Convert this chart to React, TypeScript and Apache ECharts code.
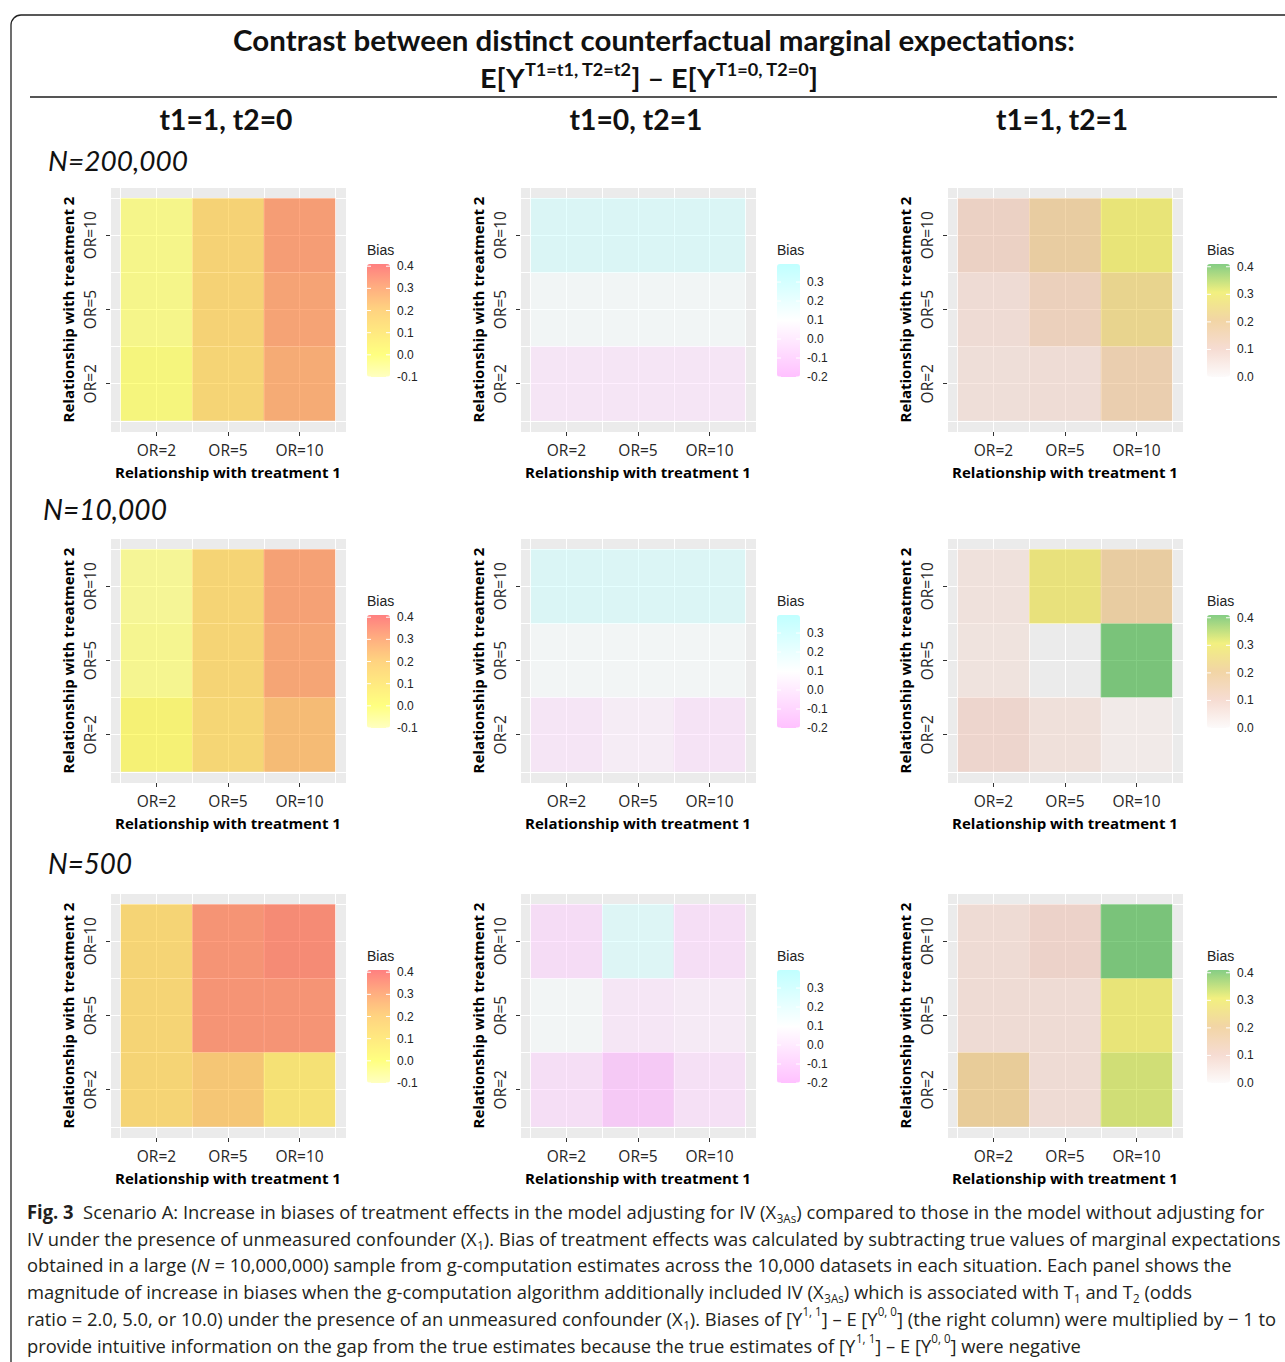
import React, { useEffect, useRef } from 'react';
import * as echarts from 'echarts';

// ---------------- data ----------------
const OR_LABELS = ['OR=2', 'OR=5', 'OR=10'];
const COLUMN_TITLES = ['t1=1, t2=0', 't1=0, t2=1', 't1=1, t2=1'];
const ROW_TITLES = ['N=200,000', 'N=10,000', 'N=500'];
const X_NAME = 'Relationship with treatment 1';
const Y_NAME = 'Relationship with treatment 2';
const LEGEND_TITLE = 'Bias';

// Each matrix: rows = treatment 2 (OR=10 top, OR=5, OR=2 bottom), cols = treatment 1 (OR=2, OR=5, OR=10)
const BIAS_T10_N200000 = [
  [-0.03, 0.16, 0.32],
  [-0.03, 0.16, 0.305],
  [-0.01, 0.15, 0.285],
];
const BIAS_T10_N10000 = [
  [-0.05, 0.15, 0.31],
  [-0.04, 0.15, 0.3],
  [0.02, 0.14, 0.24],
];
const BIAS_T10_N500 = [
  [0.15, 0.34, 0.36],
  [0.15, 0.34, 0.34],
  [0.15, 0.21, 0.09],
];
const BIAS_T01_N200000 = [
  [0.225, 0.225, 0.225],
  [0.114, 0.114, 0.114],
  [0.025, 0.025, 0.025],
];
const BIAS_T01_N10000 = [
  [0.225, 0.22, 0.22],
  [0.11, 0.11, 0.11],
  [0.025, 0.057, 0.016],
];
const BIAS_T01_N500 = [
  [-0.02, 0.21, -0.01],
  [0.11, 0.03, 0.045],
  [-0.01, -0.11, 0.0],
];
const BIAS_T11_N200000 = [
  [0.11, 0.19, 0.3],
  [0.07, 0.13, 0.24],
  [0.06, 0.068, 0.16],
];
const BIAS_T11_N10000 = [
  [0.05, 0.29, 0.19],
  [0.045, null, 0.41],
  [0.09, 0.055, 0.02],
];
const BIAS_T11_N500 = [
  [0.07, 0.1, 0.41],
  [0.07, 0.07, 0.3],
  [0.21, 0.07, 0.33],
];

const PANELS = [
  [BIAS_T10_N200000, BIAS_T01_N200000, BIAS_T11_N200000],
  [BIAS_T10_N10000, BIAS_T01_N10000, BIAS_T11_N10000],
  [BIAS_T10_N500, BIAS_T01_N500, BIAS_T11_N500],
];

const SCALE_MIN = [-0.1, -0.2, 0];
const SCALE_MAX = [0.41, 0.395, 0.41];
const LEGEND_TICKS = [
  [0.4, 0.3, 0.2, 0.1, 0.0, -0.1],
  [0.3, 0.2, 0.1, 0.0, -0.1, -0.2],
  [0.4, 0.3, 0.2, 0.1, 0.0],
];
const SCALE_COLORS = [
  ['rgba(255,255,130,0.5)', 'rgba(255,255,0,0.5)', 'rgba(255,210,0,0.5)', 'rgba(255,165,0,0.5)', 'rgba(255,90,0,0.5)', 'rgba(255,0,0,0.5)'],
  ['rgba(255,129,255,0.5)', 'rgba(255,255,255,0.5)', 'rgba(129,255,255,0.5)'],
  ['rgba(250,245,245,0.5)', 'rgba(237,185,165,0.5)', 'rgba(229,171,75,0.5)', 'rgba(229,225,0,0.5)', 'rgba(10,155,10,0.5)'],
];

type Seg = [string, string];
const CAPTION_LINES: Seg[][] = [
  [['b', 'Fig. 3'], ['n', '  Scenario A: Increase in biases of treatment effects in the model adjusting for IV (X'], ['sub', '3As'], ['n', ') compared to those in the model without adjusting for']],
  [['n', 'IV under the presence of unmeasured confounder (X'], ['sub', '1'], ['n', '). Bias of treatment effects was calculated by subtracting true values of marginal expectations']],
  [['n', 'obtained in a large ('], ['i', 'N'], ['n', ' = 10,000,000) sample from g-computation estimates across the 10,000 datasets in each situation. Each panel shows the']],
  [['n', 'magnitude of increase in biases when the g-computation algorithm additionally included IV (X'], ['sub', '3As'], ['n', ') which is associated with T'], ['sub', '1'], ['n', ' and T'], ['sub', '2'], ['n', ' (odds']],
  [['n', 'ratio = 2.0, 5.0, or 10.0) under the presence of an unmeasured confounder (X'], ['sub', '1'], ['n', '). Biases of [Y'], ['sup', '1, 1'], ['n', '] \u2013 E [Y'], ['sup', '0, 0'], ['n', '] (the right column) were multiplied by \u2212 1 to']],
  [['n', 'provide intuitive information on the gap from the true estimates because the true estimates of [Y'], ['sup', '1, 1'], ['n', '] \u2013 E [Y'], ['sup', '0, 0'], ['n', '] were negative']],
];
const TITLE_1 = 'Contrast between distinct counterfactual marginal expectations:';
const TITLE_2: Seg[] = [['m', 'E[Y'], ['s', 'T1=t1, T2=t2'], ['m', '] \u2013 E[Y'], ['s', 'T1=0, T2=0'], ['m', ']']];

// ---------------- layout ----------------
const W = 1285;
const H = 1362;
const PANEL_LEFT = [110, 520, 947];
const PANEL_TOP = [187, 538, 893];
const PANEL_W = 236;
const PANEL_H = 245;
const AX_MIN = 0.35;
const AX_MAX = 3.65;
const LEGEND_LEFT = [367, 777, 1207];
const LEGEND_OFFSET = 77;
const BAR_W = 23;
const BAR_H = 113;
const COL_CENTER = [226, 636, 1062];
const COL_TITLE_W = [133, 133, 132];
const ROW_LABEL_X = [48, 43, 48];
const ROW_LABEL_Y = [160, 509, 863];
const ROW_LABEL_W = [140, 124, 84];
const CAPTION_X = 27;
const CAPTION_Y = [1211, 1238, 1264, 1291, 1318, 1345];
const CAPTION_LINE1_W = 1238;

type RichStyle = { fontSize: number; fontFamily: string; fontWeight?: string; fontStyle?: string; [k: string]: any };

let measureCtx: CanvasRenderingContext2D | null = null;
function fontStr(s: RichStyle) {
  return `${s.fontStyle || 'normal'} ${s.fontWeight || 'normal'} ${s.fontSize}px "${s.fontFamily}"`;
}
function measureSegs(segs: Seg[], rich: Record<string, RichStyle>) {
  if (!measureCtx) measureCtx = document.createElement('canvas').getContext('2d');
  let w = 0;
  for (const [k, t] of segs) {
    measureCtx!.font = fontStr(rich[k]);
    w += measureCtx!.measureText(t).width;
  }
  return w;
}
function richText(segs: Seg[]) {
  return segs.map(([k, t]) => `{${k}|${t}}`).join('');
}
function fitScale(segs: Seg[], rich: Record<string, RichStyle>, target: number) {
  const w = measureSegs(segs, rich);
  if (!w) return 1;
  return Math.max(0.6, Math.min(1.4, target / w));
}

function buildOption() {
  const grid: any[] = [];
  const xAxis: any[] = [];
  const yAxis: any[] = [];
  const series: any[] = [];
  const visualMap: any[] = [];
  const graphic: any[] = [];

  const labelFmt = (v: number) => {
    const r = Math.round(v);
    return Math.abs(v - r) < 1e-6 && r >= 1 && r <= 3 ? OR_LABELS[r - 1] : '';
  };

  for (let r = 0; r < 3; r++) {
    for (let c = 0; c < 3; c++) {
      const idx = r * 3 + c;
      const mat = PANELS[r][c];
      const data: number[][] = [];
      for (let yi = 0; yi < 3; yi++) {
        for (let xi = 0; xi < 3; xi++) {
          const v = mat[yi][xi];
          if (v === null || v === undefined) continue;
          data.push([xi + 1, 3 - yi, v as number]);
        }
      }
      grid.push({
        left: PANEL_LEFT[c], top: PANEL_TOP[r], width: PANEL_W, height: PANEL_H,
        show: true, backgroundColor: '#EBEBEB', borderWidth: 0, containLabel: false,
      });
      // grid-line axes
      xAxis.push({
        gridIndex: idx, type: 'value', position: 'top', min: AX_MIN, max: AX_MAX,
        minInterval: 0.5, maxInterval: 0.5, splitNumber: 7,
        axisLine: { show: false, onZero: false }, axisTick: { show: false }, axisLabel: { show: false },
        splitLine: { show: true, lineStyle: { color: '#FFFFFF', width: 1 } },
      });
      xAxis.push({
        gridIndex: idx, type: 'value', position: 'bottom', min: AX_MIN, max: AX_MAX,
        minInterval: 1, maxInterval: 1,
        axisLine: { show: false, onZero: false }, splitLine: { show: false },
        axisTick: { show: true, customValues: [1, 2, 3], length: 4, lineStyle: { color: '#333333', width: 1 } },
        axisLabel: { show: true, customValues: [1, 2, 3], formatter: labelFmt, margin: 10, fontSize: 15.5, fontFamily: 'Open Sans', color: '#262626' },
        name: X_NAME, nameLocation: 'middle', nameGap: 32,
        nameTextStyle: { fontWeight: 'bold', fontSize: 15, fontFamily: 'Open Sans', color: '#000000' },
      });
      yAxis.push({
        gridIndex: idx, type: 'value', position: 'right', min: AX_MIN, max: AX_MAX,
        minInterval: 0.5, maxInterval: 0.5, splitNumber: 7,
        axisLine: { show: false, onZero: false }, axisTick: { show: false }, axisLabel: { show: false },
        splitLine: { show: true, lineStyle: { color: '#FFFFFF', width: 1 } },
      });
      yAxis.push({
        gridIndex: idx, type: 'value', position: 'left', min: AX_MIN, max: AX_MAX,
        minInterval: 1, maxInterval: 1,
        axisLine: { show: false, onZero: false }, splitLine: { show: false },
        axisTick: { show: true, customValues: [1, 2, 3], length: 4, lineStyle: { color: '#333333', width: 1 } },
        axisLabel: { show: true, customValues: [1, 2, 3], formatter: labelFmt, margin: 12, rotate: 90, fontSize: 15.5, fontFamily: 'Open Sans', color: '#262626' },
        name: Y_NAME, nameLocation: 'middle', nameGap: 35,
        nameTextStyle: { fontWeight: 'bold', fontSize: 15, fontFamily: 'Open Sans', color: '#000000' },
      });
      series.push({
        type: 'custom', coordinateSystem: 'cartesian2d',
        xAxisIndex: idx * 2, yAxisIndex: idx * 2, silent: true,
        encode: { x: 0, y: 1 },
        data,
        renderItem: (params: any, api: any) => {
          const x = api.value(0);
          const y = api.value(1);
          const p0 = api.coord([x - 0.5, y + 0.5]);
          const p1 = api.coord([x + 0.5, y - 0.5]);
          return {
            type: 'rect',
            shape: { x: p0[0], y: p0[1], width: p1[0] - p0[0], height: p1[1] - p0[1] },
            style: { fill: api.visual('color') },
          };
        },
      });
      const barTop = PANEL_TOP[r] + LEGEND_OFFSET;
      const barLeft = LEGEND_LEFT[c];
      visualMap.push({
        type: 'continuous', seriesIndex: idx, dimension: 2,
        min: SCALE_MIN[c], max: SCALE_MAX[c],
        inRange: { color: SCALE_COLORS[c] },
        outOfRange: { color: ['rgba(255,255,255,0)'] },
        show: true, calculable: false, hoverLink: false, orient: 'vertical',
        left: barLeft, top: barTop, itemWidth: BAR_W, itemHeight: BAR_H, padding: 0,
      });
      // legend title
      graphic.push({
        type: 'text', x: barLeft, y: barTop - 14, silent: true,
        style: { text: LEGEND_TITLE, fontSize: 14, fontFamily: 'Liberation Sans', fill: '#222222', align: 'left', verticalAlign: 'middle' },
      });
      const span = SCALE_MAX[c] - SCALE_MIN[c];
      for (const t of LEGEND_TICKS[c]) {
        const ty = barTop + ((SCALE_MAX[c] - t) / span) * BAR_H;
        graphic.push({
          type: 'text', x: barLeft + BAR_W + 7, y: ty, silent: true,
          style: { text: t.toFixed(1), fontSize: 12, fontFamily: 'Liberation Sans', fill: '#222222', align: 'left', verticalAlign: 'middle' },
        });
        graphic.push({ type: 'line', silent: true, z: 10, shape: { x1: barLeft, y1: ty, x2: barLeft + 4, y2: ty }, style: { stroke: '#FFFFFF', lineWidth: 1 } });
        graphic.push({ type: 'line', silent: true, z: 10, shape: { x1: barLeft + BAR_W - 4, y1: ty, x2: barLeft + BAR_W, y2: ty }, style: { stroke: '#FFFFFF', lineWidth: 1 } });
      }
    }
  }

  // frame
  graphic.push({ type: 'rect', silent: true, shape: { x: 11, y: 15, width: 1320, height: 1400, r: 10 }, style: { fill: 'none', stroke: '#222222', lineWidth: 1.3 } });
  // rule
  graphic.push({ type: 'line', silent: true, shape: { x1: 30, y1: 97, x2: 1277, y2: 97 }, style: { stroke: '#555555', lineWidth: 2 } });

  // title 1
  const titleRich: Record<string, RichStyle> = { t: { fontSize: 28, fontFamily: 'Lato', fontWeight: 'bold' } };
  graphic.push({
    type: 'text', x: 654, y: 40, silent: true, scaleX: fitScale([['t', TITLE_1]], titleRich, 842),
    style: { text: TITLE_1, fontSize: 28, fontFamily: 'Lato', fontWeight: 'bold', fill: '#111111', align: 'center', verticalAlign: 'middle' },
  });
  const t2Rich: Record<string, RichStyle> = {
    m: { fontSize: 27, fontFamily: 'Lato', fontWeight: 'bold', fill: '#111111', lineHeight: 32, verticalAlign: 'middle' },
    s: { fontSize: 17, fontFamily: 'Lato', fontWeight: 'bold', fill: '#111111', lineHeight: 18, verticalAlign: 'top' },
  };
  graphic.push({
    type: 'text', x: 649, y: 77, silent: true, scaleX: fitScale(TITLE_2, t2Rich, 338),
    style: { text: richText(TITLE_2), rich: t2Rich, align: 'center', verticalAlign: 'middle' },
  });
  // column titles
  const hRich: Record<string, RichStyle> = { h: { fontSize: 28, fontFamily: 'Lato', fontWeight: 'bold' } };
  for (let c = 0; c < 3; c++) {
    graphic.push({
      type: 'text', x: COL_CENTER[c], y: 119, silent: true, scaleX: fitScale([['h', COLUMN_TITLES[c]]], hRich, COL_TITLE_W[c]),
      style: { text: COLUMN_TITLES[c], fontSize: 28, fontFamily: 'Lato', fontWeight: 'bold', fill: '#111111', align: 'center', verticalAlign: 'middle' },
    });
  }
  // row titles
  const rRich: Record<string, RichStyle> = { r: { fontSize: 28, fontFamily: 'Lato', fontStyle: 'italic' } };
  for (let r = 0; r < 3; r++) {
    graphic.push({
      type: 'text', x: ROW_LABEL_X[r], y: ROW_LABEL_Y[r], silent: true, scaleX: fitScale([['r', ROW_TITLES[r]]], rRich, ROW_LABEL_W[r]),
      style: { text: ROW_TITLES[r], fontSize: 28, fontFamily: 'Lato', fontStyle: 'italic', fill: '#111111', align: 'left', verticalAlign: 'middle' },
    });
  }
  // caption
  const capRich: Record<string, RichStyle> = {
    n: { fontSize: 19, fontFamily: 'Open Sans', fill: '#231F20', lineHeight: 26, verticalAlign: 'middle' },
    b: { fontSize: 19, fontFamily: 'Open Sans', fontWeight: 'bold', fill: '#231F20', lineHeight: 26, verticalAlign: 'middle' },
    i: { fontSize: 19, fontFamily: 'Open Sans', fontStyle: 'italic', fill: '#231F20', lineHeight: 26, verticalAlign: 'middle' },
    sub: { fontSize: 12, fontFamily: 'Open Sans', fill: '#231F20', lineHeight: 14, verticalAlign: 'bottom' },
    sup: { fontSize: 12, fontFamily: 'Open Sans', fill: '#231F20', lineHeight: 14, verticalAlign: 'top' },
  };
  const capScale = fitScale(CAPTION_LINES[0], capRich, CAPTION_LINE1_W);
  CAPTION_LINES.forEach((segs, i) => {
    graphic.push({
      type: 'text', x: CAPTION_X, y: CAPTION_Y[i], silent: true, scaleX: capScale,
      style: { text: richText(segs), rich: capRich, align: 'left', verticalAlign: 'middle' },
    });
  });

  return {
    animation: false,
    backgroundColor: '#FFFFFF',
    grid, xAxis, yAxis, series, visualMap, graphic,
  };
}

export default function App() {
  const ref = useRef<HTMLDivElement>(null);
  useEffect(() => {
    document.body.style.margin = '0';
    const chart = echarts.init(ref.current!, null, { renderer: 'svg' });
    chart.setOption(buildOption() as any);
    return () => chart.dispose();
  }, []);
  return <div ref={ref} style={{ width: W, height: H }} />;
}
